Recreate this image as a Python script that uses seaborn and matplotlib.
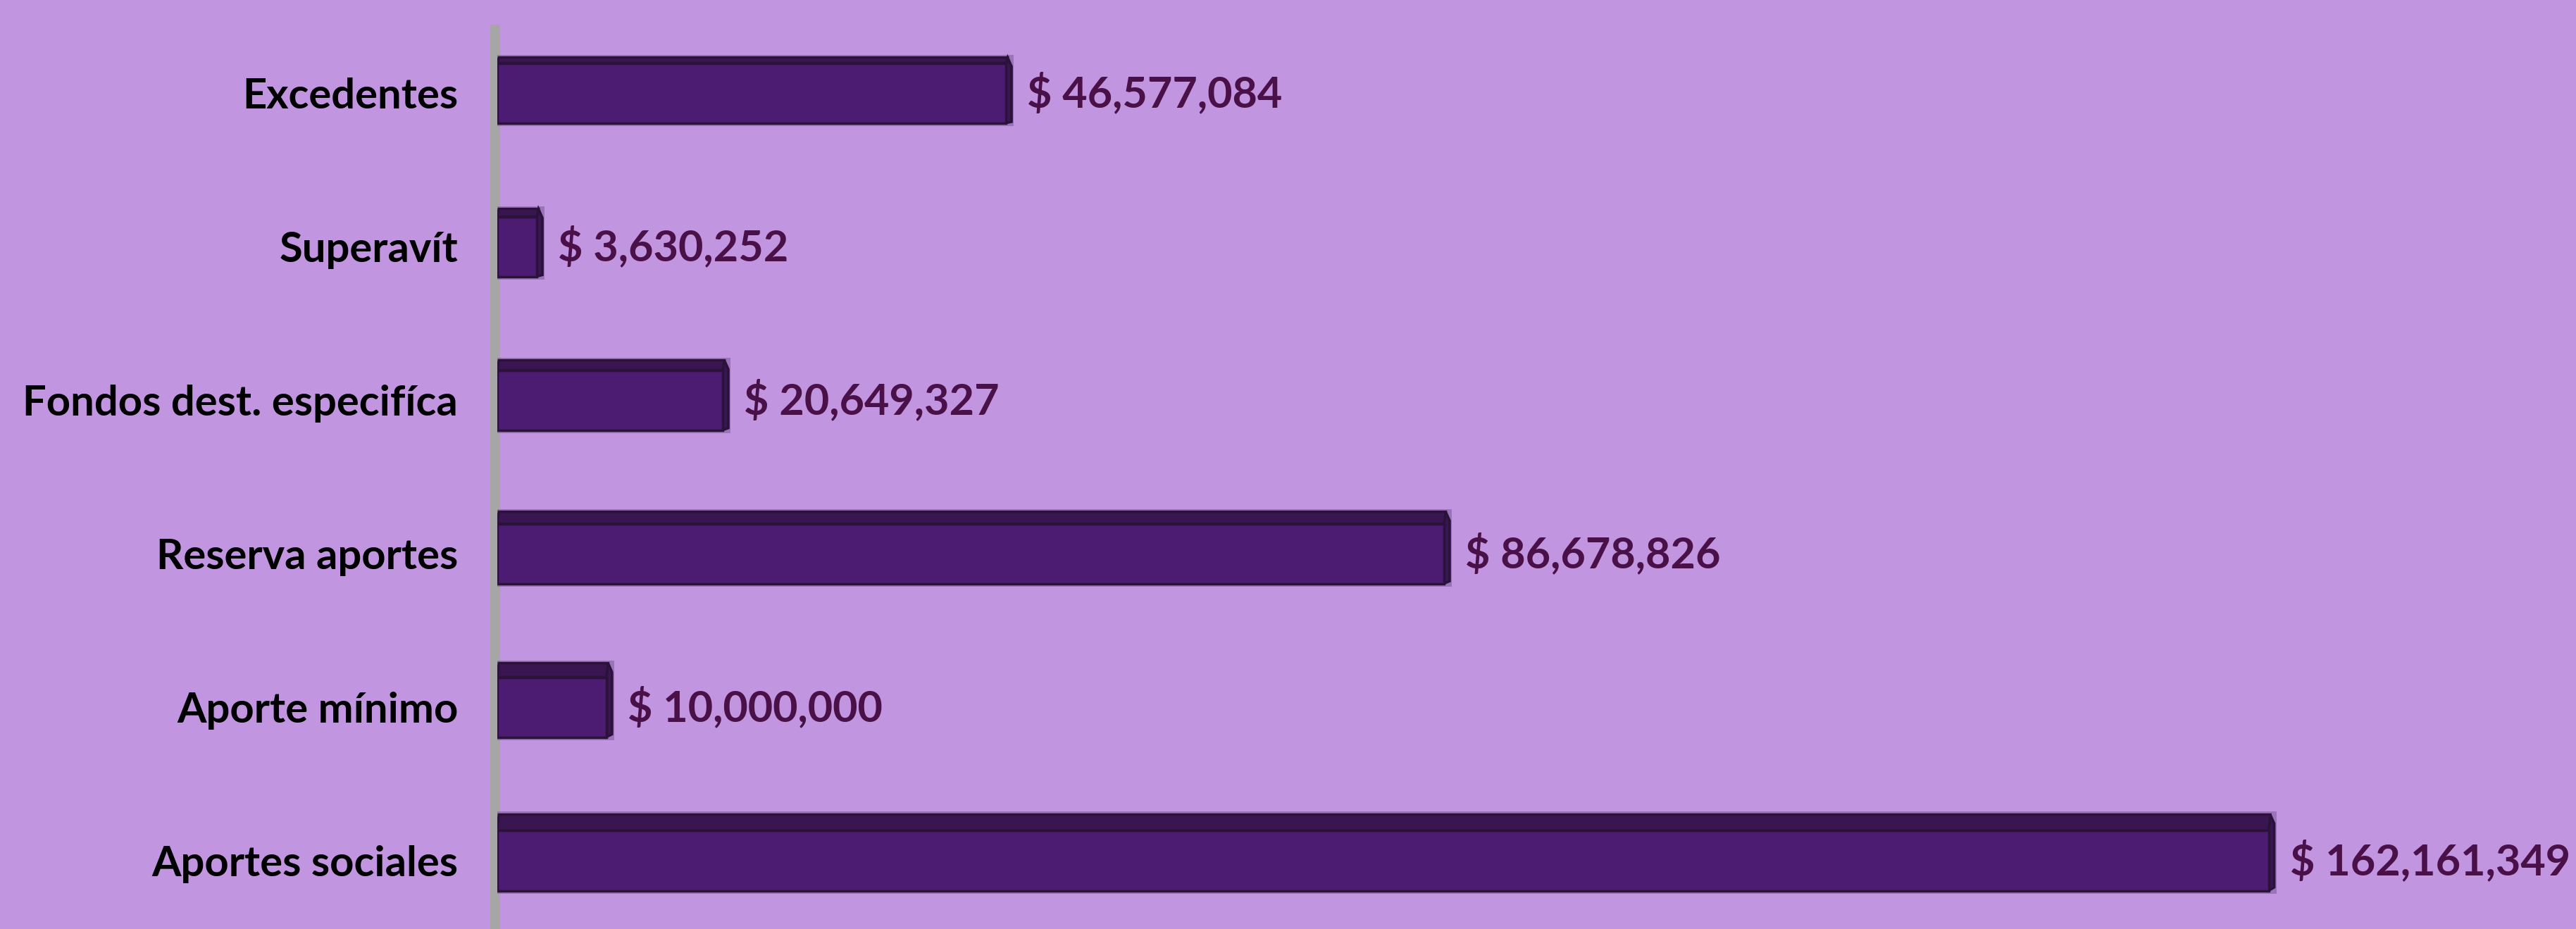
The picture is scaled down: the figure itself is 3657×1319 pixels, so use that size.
import matplotlib
matplotlib.use("Agg")
import matplotlib.pyplot as plt
import seaborn as sns
import pandas as pd
from matplotlib.patches import Polygon

categories = ["Excedentes", "Superavít", "Fondos dest. especifíca",
              "Reserva aportes", "Aporte mínimo", "Aportes sociales"]
values = [46577084, 3630252, 20649327, 86678826, 10000000, 162161349]

BG = "#C195E0"
FRONT = "#4C1C72"
TOP = "#391552"
EDGE = "#2A1238"
LABEL = "#4A1048"

sns.set_theme(style="white")
plt.rcParams["font.family"] = ["Lato", "DejaVu Sans"]

df = pd.DataFrame({"cat": categories, "val": values})

fig = plt.figure(figsize=(36.57, 13.19), dpi=100)
fig.patch.set_facecolor(BG)
ax = fig.add_axes([0.193, 0.0, 0.807, 1.0])
ax.set_facecolor(BG)

sns.barplot(data=df, x="val", y="cat", orient="h", color=FRONT,
            width=0.39, saturation=1, ax=ax, zorder=3)

ax.set_xlim(0, 190.3e6)
ax.set_ylim(5.445, -0.606)

# px -> data conversions
px_x = 190.3e6 / 2950.0
px_y = 6.051 / 1319.0
dx_side = 8 * px_x

bars = sorted(ax.patches, key=lambda r: r.get_y())
for k, p in enumerate(bars):
    x0, y0 = p.get_x(), p.get_y()
    w, h = p.get_width(), p.get_height()
    dy = (8 + 3 * k) * px_y  # perspective: deeper top face lower down
    p.set_edgecolor(EDGE)
    p.set_linewidth(2.5)
    ytop = y0
    top = Polygon([(x0, ytop), (x0 + w, ytop), (x0 + w + dx_side * 0.3, ytop - dy),
                   (x0 + dx_side * 0.3, ytop - dy)], closed=True,
                  facecolor=TOP, edgecolor=EDGE, lw=2.5, zorder=2.9)
    ax.add_patch(top)
    side = Polygon([(x0 + w, ytop), (x0 + w + dx_side * 0.3, ytop - dy),
                    (x0 + w + dx_side, ytop - dy + h * 0.15), (x0 + w + dx_side, ytop + h - dy * 0.2),
                    (x0 + w, ytop + h)], closed=True,
                   facecolor=TOP, edgecolor=EDGE, lw=2.5, zorder=2.8)
    ax.add_patch(side)
    halo = Polygon([(x0 - 2 * px_x, ytop - dy - 4 * px_y), (x0 + w + dx_side + 3 * px_x, ytop - dy - 4 * px_y),
                    (x0 + w + dx_side + 3 * px_x, ytop + h + 4 * px_y), (x0 - 2 * px_x, ytop + h + 4 * px_y)],
                   closed=True, facecolor="#6E4A8C", edgecolor="none", alpha=0.45, zorder=2.5)
    ax.add_patch(halo)

# gray axis wall line
ax.plot([-3 * px_x, -3 * px_x], [-0.445, 5.445], color="#A6A6A6", lw=10, zorder=2,
        solid_capstyle="butt", clip_on=False)

for i, v in enumerate(values):
    ax.annotate(f"$ {v:,}", xy=(v, i), xytext=(30, 0), textcoords="offset pixels",
                ha="left", va="center", fontsize=44, fontweight="bold", color=LABEL, zorder=5)

ax.set_xlabel("")
ax.set_ylabel("")
ax.set_xticks([])
ax.tick_params(axis="y", length=0, pad=40)
for lbl in ax.get_yticklabels():
    lbl.set_fontsize(43)
    lbl.set_fontweight("bold")
    lbl.set_color("black")
for s in ax.spines.values():
    s.set_visible(False)

fig.savefig("out.png", dpi=100, facecolor=BG)
